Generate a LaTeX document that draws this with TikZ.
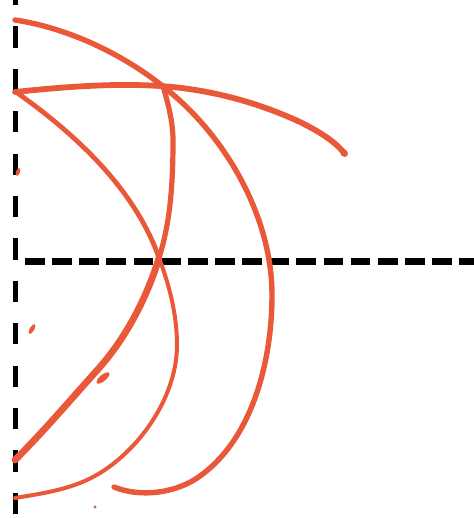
\documentclass[tikz,border=0pt]{standalone}
\definecolor{ink}{RGB}{234,88,58}
\begin{document}
\begin{tikzpicture}[x=0.5pt,y=-0.5pt,
  stroke/.style={draw=ink, line cap=round, line join=round},
  vdash/.style={draw=black, line width=2.6pt, dash pattern=on 10.6pt off 10.6pt},
  hdash/.style={draw=black, line width=3.3pt, dash pattern=on 9.9pt off 3.67pt},
  blob/.style={fill=ink, draw=none}]
\useasboundingbox (0,0) rectangle (474,518);
% dashed axes
\draw[vdash] (15.5,-16) -- (15.5,514);
\draw[hdash] (25,261.5) -- (482,261.5);
% arc A (outer)
\draw[stroke, line width=2.7pt] (15,20) .. controls (68,28) and (123,54) .. (165,88)
  .. controls (226,136) and (272,217) .. (272,295)
  .. controls (272,360) and (253,438) .. (200,476)
  .. controls (177,493) and (141,498) .. (114,487);
% arc B (top)
\draw[stroke, line width=2.9pt] (15,92) .. controls (63,87) and (112,83) .. (160,86)
  .. controls (208,89) and (257,102) .. (300,122)
  .. controls (316,130) and (334,140) .. (345,154);
\fill[blob] (344,153) circle (3.6);
% arc C (inner C)
\draw[stroke, line width=2.4pt] (16,92) .. controls (74,133) and (133,187) .. (158,255);
\draw[stroke, line width=2.0pt] (158,255) .. controls (169,284) and (177,314) .. (177,345)
  .. controls (177,395) and (142,447) .. (100,473)
  .. controls (74,489) and (45,493) .. (15,498);
% arc D
\draw[stroke, line width=2.6pt] (163,86) .. controls (168,103) and (173,122) .. (173,140)
  .. controls (173,180) and (171,220) .. (159,258);
\draw[stroke, line width=3.4pt] (159,258) .. controls (147,297) and (127,336) .. (100,367)
  .. controls (72,398) and (45,430) .. (15,460);
% small marks
\fill[blob, rotate around={70:(18,172)}] (18,172) ellipse (4 and 2);
\fill[blob, rotate around={60:(32,329)}] (32,329) ellipse (5.5 and 2.3);
\fill[blob, rotate around={40:(103,378)}] (103,378) ellipse (8 and 3.2);
\fill[ink!70!gray] (95,507) circle (1.6);
\end{tikzpicture}
\end{document}
